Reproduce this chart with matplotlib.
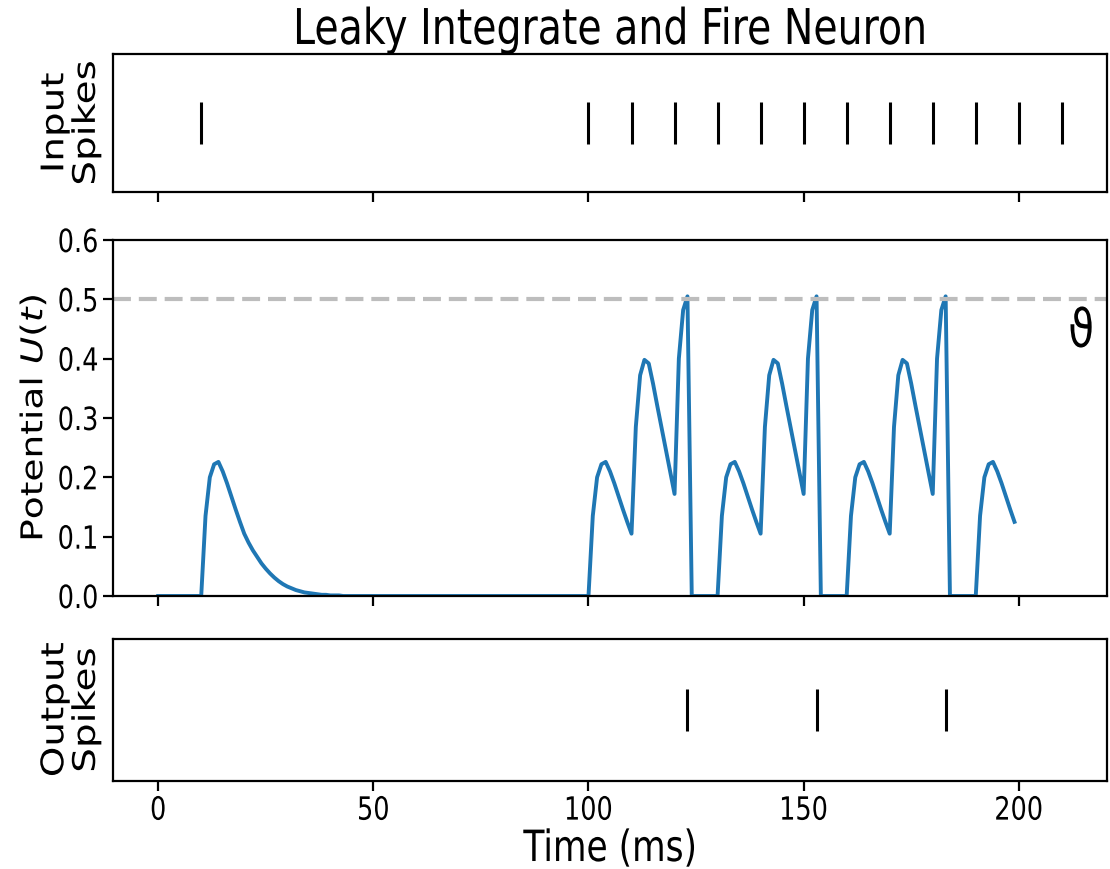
import matplotlib
matplotlib.use("Agg")
import matplotlib.pyplot as plt
from matplotlib.patheffects import AbstractPathEffect
from matplotlib.transforms import Affine2D
import numpy as np

# spike times (ms)
input_spikes = [10, 100, 110, 120, 130, 140, 150, 160, 170, 180, 190, 200, 210]
output_spikes = [123, 153, 183]

# membrane potential, one sample per ms (t = 0 .. 199)
potential = [
    0, 0, 0, 0, 0, 0, 0, 0, 0, 0,
    0, .135, .200, .222, .226, .210, .190, .168, .146, .125,
    .105, .090, .077, .066, .055, .046, .038, .031, .025, .020,
    .016, .013, .010, .008, .006, .005, .004, .003, .002, .002,
    .001, .001, .001, 0, 0, 0, 0, 0, 0, 0,
    0, 0, 0, 0, 0, 0, 0, 0, 0, 0,
    0, 0, 0, 0, 0, 0, 0, 0, 0, 0,
    0, 0, 0, 0, 0, 0, 0, 0, 0, 0,
    0, 0, 0, 0, 0, 0, 0, 0, 0, 0,
    0, 0, 0, 0, 0, 0, 0, 0, 0, 0,
    0, .135, .200, .222, .226, .210, .190, .168, .146, .125,
    .105, .285, .372, .398, .392, .358, .320, .283, .246, .209,
    .172, .400, .482, .505, 0, 0, 0, 0, 0, 0,
    0, .135, .200, .222, .226, .210, .190, .168, .146, .125,
    .105, .285, .372, .398, .392, .358, .320, .283, .246, .209,
    .172, .400, .482, .505, 0, 0, 0, 0, 0, 0,
    0, .135, .200, .222, .226, .210, .190, .168, .146, .125,
    .105, .285, .372, .398, .392, .358, .320, .283, .246, .209,
    .172, .400, .482, .505, 0, 0, 0, 0, 0, 0,
    0, .135, .200, .222, .226, .210, .190, .168, .146, .125,
]
time = np.arange(len(potential))
threshold = 0.5

# the original image is squashed sideways, so the text is narrower than tall
SX = 0.8


class Squeeze(AbstractPathEffect):
    def __init__(self, text, sx=SX, anchor="center"):
        super().__init__()
        self.text, self.sx, self.anchor = text, sx, anchor

    def draw_path(self, renderer, gc, tpath, affine, rgbFace=None):
        bb = self.text.get_window_extent(renderer)
        cx = bb.x1 if self.anchor == "right" else (bb.x0 + bb.x1) / 2
        sq = Affine2D().translate(-cx, 0).scale(self.sx, 1).translate(cx, 0)
        renderer.draw_path(gc, tpath, affine + sq, rgbFace)


def squeeze(text, anchor="center"):
    text.set_path_effects([Squeeze(text, anchor=anchor)])


fig = plt.figure(figsize=(11.1, 8.7), dpi=100)

left, width = 0.1018, 0.8955
ax_in = fig.add_axes([left, 0.7782, width, 0.1586])
ax_mem = fig.add_axes([left, 0.3138, width, 0.4092], sharex=ax_in)
ax_out = fig.add_axes([left, 0.1011, width, 0.1632], sharex=ax_in)

for ax in (ax_in, ax_mem, ax_out):
    for s in ax.spines.values():
        s.set_linewidth(1.6)
    ax.tick_params(labelsize=23, width=1.6, length=7)

# input spikes
ax_in.scatter(input_spikes, np.zeros(len(input_spikes)), s=950, c="black",
              marker="|", linewidths=2.2)
ax_in.set_ylim(-0.11, 0.11)
ax_in.set_yticks([])
ax_in.set_ylabel("Input\nSpikes", fontsize=28, linespacing=1.05)
ax_in.tick_params(labelbottom=False)
ax_in.set_title("Leaky Integrate and Fire Neuron", fontsize=35.5, pad=6)

# membrane potential
ax_mem.plot(time, potential, color="#1f77b4", lw=2.8)
ax_mem.axhline(threshold, color="#bdbdbd", lw=3, ls=(0, (4.3, 1.9)))
theta = ax_mem.text(214.5, 0.445, "\u03d1", fontsize=38, ha="center", va="center")
ax_mem.set_ylim(0, 0.6)
ax_mem.set_yticks([0, 0.1, 0.2, 0.3, 0.4, 0.5, 0.6])
ax_mem.set_ylabel(r"Potential $U(t)$", fontsize=27)
ax_mem.tick_params(labelbottom=False)

# output spikes
ax_out.scatter(output_spikes, np.zeros(len(output_spikes)), s=950, c="black",
               marker="|", linewidths=2.2)
ax_out.set_ylim(-0.11, 0.11)
ax_out.set_yticks([])
ax_out.set_ylabel("Output\nSpikes", fontsize=28, linespacing=1.05)
ax_out.set_xlabel("Time (ms)", fontsize=31, labelpad=1)

ax_out.set_xlim(-10.5, 220.5)
ax_out.set_xticks([0, 50, 100, 150, 200])

ax_in.yaxis.set_label_coords(-0.004, 0.5)
ax_mem.yaxis.set_label_coords(-0.061, 0.5)
ax_out.yaxis.set_label_coords(-0.004, 0.5)

# squeeze every text
squeeze(ax_in.title)
squeeze(theta)
for ax in (ax_in, ax_mem, ax_out):
    squeeze(ax.yaxis.label)
squeeze(ax_out.xaxis.label)
for lab in ax_out.get_xticklabels():
    squeeze(lab)
for lab in ax_mem.get_yticklabels():
    squeeze(lab, anchor="right")

fig.savefig("out.png", dpi=100)
